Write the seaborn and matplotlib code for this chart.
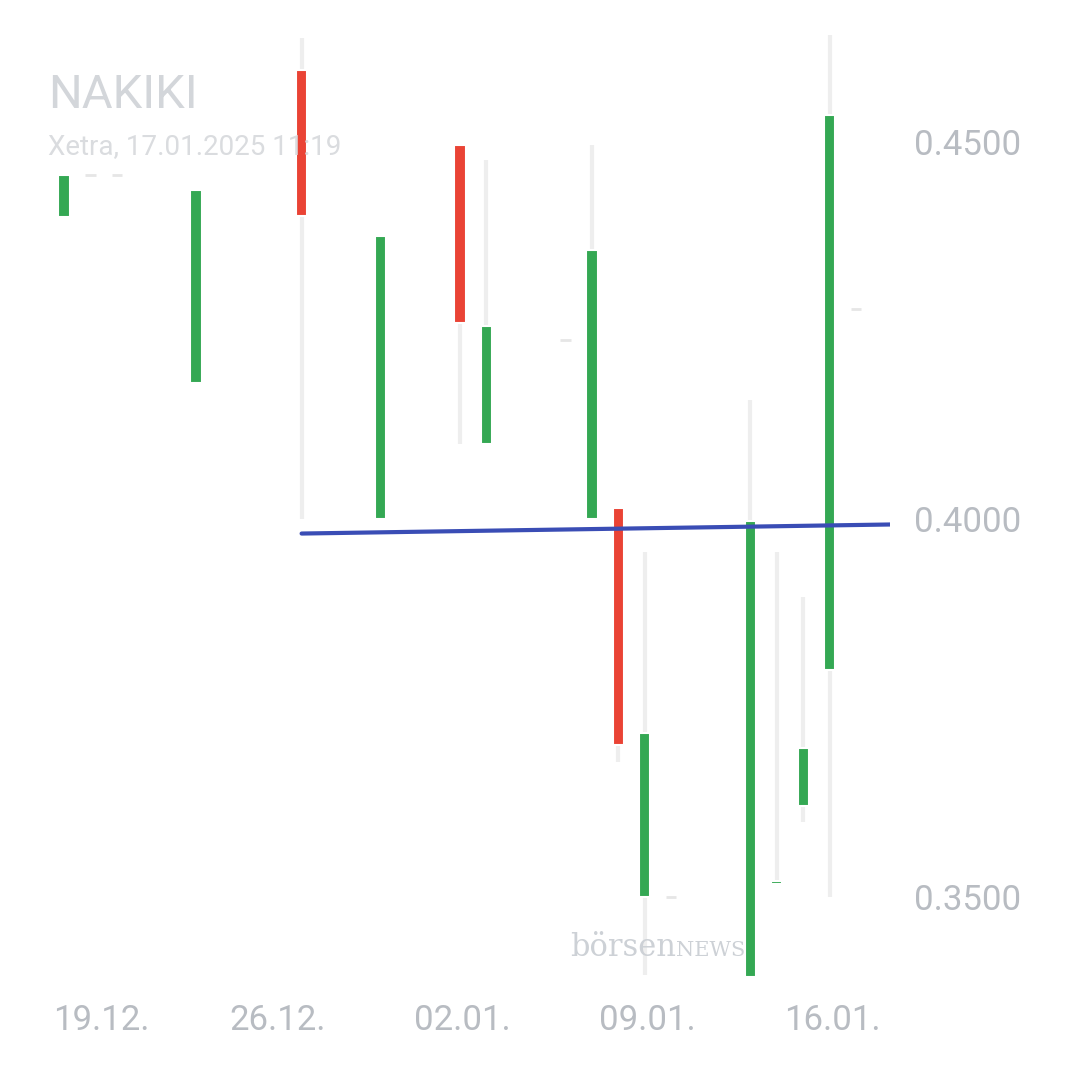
import matplotlib
matplotlib.use("Agg")
import matplotlib.pyplot as plt
import seaborn as sns
import pandas as pd

# day offsets from 18.12.2024
days   = [0, 5, 9, 12, 15, 16, 20, 21, 22, 26, 27, 28, 29]
opens  = [0.4400, 0.4181, 0.4595, 0.4000, 0.4496, 0.4099, 0.4000, 0.4015, 0.3500, 0.3394, 0.3517, 0.3620, 0.3800]
closes = [0.4456, 0.4436, 0.4401, 0.4375, 0.4260, 0.4256, 0.4356, 0.3701, 0.3717, 0.3997, 0.3520, 0.3697, 0.4536]
highs  = [0.4456, 0.4436, 0.4638, 0.4375, 0.4476, 0.4476, 0.4496, 0.4015, 0.3957, 0.4158, 0.3957, 0.3897, 0.4642]
lows   = [0.4400, 0.4181, 0.4000, 0.4000, 0.4099, 0.4099, 0.4000, 0.3679, 0.3396, 0.3394, 0.3517, 0.3599, 0.3500]
flat_days = [1, 2, 19, 23, 30]
flat_vals = [0.4456, 0.4456, 0.4238, 0.3500, 0.4278]
trend_x = [9, 31.3]
trend_y = [0.3981, 0.3993]
tick_days = [1.4, 8.1, 15.1, 22.1, 29.1]
tick_labels = ["19.12.", "26.12.", "02.01.", "09.01.", "16.01."]
y_ticks = [0.35, 0.40, 0.45]
y_labels = ["0.3500", "0.4000", "0.4500"]

sns.set_style("white")
plt.rcParams['font.family'] = ['Roboto', 'DejaVu Sans']
fig = plt.figure(figsize=(10.8, 10.8), dpi=100)
L, R, T, B = 40, 890, 30, 985
ax = fig.add_axes([L/1080, 1-B/1080, (R-L)/1080, (B-T)/1080])
ax.set_xlim(-0.91, 31.29)
ax.set_ylim(0.3383, 0.4648)

df = pd.DataFrame({"day": days, "open": opens, "close": closes, "high": highs, "low": lows})
for _, r in df.iterrows():
    ax.vlines(r["day"], r["low"], r["high"], color="#eeeeee", lw=3, zorder=1)
for _, r in df.iterrows():
    up = r["close"] >= r["open"]
    col = "#34a853" if up else "#ea4335"
    lo, hi = min(r["open"], r["close"]), max(r["open"], r["close"])
    ax.bar(r["day"], max(hi - lo, 0.0004), bottom=lo, width=0.42, color=col,
           edgecolor="white", linewidth=1.5, zorder=2)
for d, v in zip(flat_days, flat_vals):
    ax.hlines(v, d - 0.2, d + 0.2, color="#e6e6e6", lw=2, zorder=1)

sns.lineplot(x=trend_x, y=trend_y, ax=ax, color="#3a4db5", lw=3, zorder=3)

ax.set_xticks(tick_days)
ax.set_xticklabels(tick_labels)
ax.set_yticks(y_ticks)
ax.set_yticklabels(y_labels)
ax.yaxis.tick_right()
ax.tick_params(axis="y", length=0, pad=17, labelsize=25, labelcolor="#b8bcc2")
ax.tick_params(axis="x", length=0, pad=14, labelsize=25, labelcolor="#b8bcc2")
for s in ax.spines.values():
    s.set_visible(False)
ax.grid(False)

fig.text(48/1080, 1-95/1080, "NAKIKI", fontsize=34, color="#d3d6da", va="center")
fig.text(48/1080, 1-147/1080, "Xetra, 17.01.2025 11:19", fontsize=20, color="#dadcdf", va="center")
fig.text(570/1080, 1-948/1080, "börsen", fontsize=22, color="#cdd1d6", va="center",
         family=["DejaVu Serif"])
fig.text(676/1080, 1-951/1080, "NEWS", fontsize=15, color="#cdd1d6", va="center",
         family=["DejaVu Serif"])

fig.savefig("out.png", dpi=100, facecolor="white")
